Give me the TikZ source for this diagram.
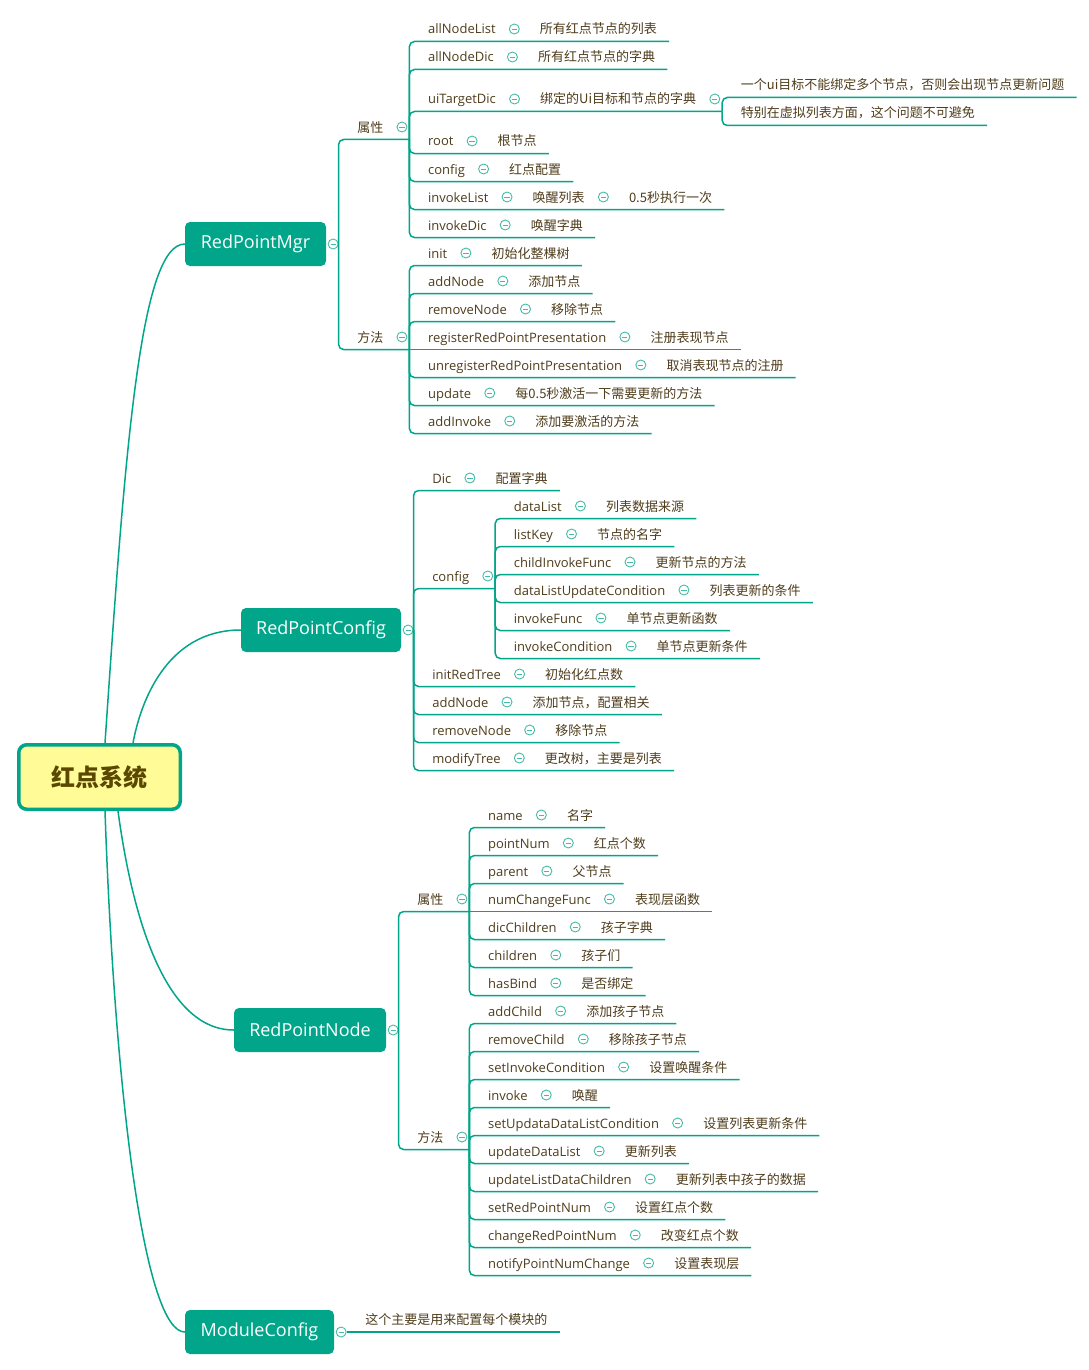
\documentclass[tikz,border=0pt]{standalone}
\usepackage{fontspec}
\setmainfont{Noto Sans CJK SC}
\newfontfamily\latinface{Open Sans}
\usetikzlibrary{positioning,calc}

\definecolor{mapteal}{HTML}{00A58A}
\definecolor{togline}{HTML}{45BBA5}
\definecolor{ink}{HTML}{4F3D1C}
\definecolor{corefill}{HTML}{FFFB97}
\definecolor{coreink}{HTML}{5A4800}

\tikzset{
  leaf/.style={anchor=west, inner sep=0pt, text=ink, font=\fontsize{13}{15}\selectfont,
    text height=11.5pt, text depth=1.5pt},
  tog/.style={circle, draw=togline, line width=0.9pt, fill=white, minimum size=10pt, inner sep=0pt,
    path picture={\draw[togline, line width=0.9pt]
      ($(path picture bounding box.center)+(-2.6,0)$) -- ($(path picture bounding box.center)+(2.6,0)$);}},
  wire/.style={draw=mapteal, line width=1.5pt},
  elbow/.style={wire, rounded corners=5pt},
  branch/.style={rectangle, rounded corners=5pt, fill=mapteal, text=white,
    font=\latinface\fontsize{18}{22}\selectfont, minimum height=44pt, inner xsep=0pt},
  core/.style={rectangle, rounded corners=8pt, draw=mapteal, line width=3.5pt, fill=corefill,
    text=coreink, font=\bfseries\fontsize{24}{28}\selectfont, minimum width=161.5pt, minimum height=64.5pt}
}

% a row: label, toggle, note, underlined and hung on the parent's bracket
\newcommand\twig[6][|-]{%
  \node[leaf] (#2) at ($(#3 |- 0,#4)+(18.5,0)$) {\latinface #5};
  \node[tog, right=13pt of #2] (#2k) {};
  \node[leaf, right=20pt of #2k] (#2n) {#6};
  \coordinate (#2e) at ($(#2n.east)+(12,12.5)$);
  \draw[elbow] (#3) #1 (#2e);
}
% a label with a toggle whose underline end opens a new bracket
\newcommand\hub[5][|-]{%
  \node[leaf] (#2) at ($(#3 |- 0,#4)+(18.5,0)$) {#5};
  \node[tog, right=13pt of #2] (#2k) {};
  \coordinate (#2o) at ($(#2k.east)+(2,12.5)$);
  \draw[elbow] (#3) #1 (#2o);
}
% a plain text leaf
\newcommand\tip[5][|-]{%
  \node[leaf] (#2) at ($(#3 |- 0,#4)+(18.5,0)$) {#5};
  \coordinate (#2e) at ($(#2.east)+(12,12.5)$);
  \draw[elbow] (#3) #1 (#2e);
}

\begin{document}
\begin{tikzpicture}[x=1pt, y=-1pt]
\fill[white] (0,0) rectangle (1089,1370);
\useasboundingbox (0,0) rectangle (1089,1370);

% centre topic and main branches
\node[core] (core) at (99.5,777) {红点系统};
\node[branch, minimum width=141pt] (mgr) at (255.5,244) {RedPointMgr};
\node[branch, minimum width=160pt] (cfg) at (321,630) {RedPointConfig};
\node[branch, minimum width=152pt] (nd) at (310,1030) {RedPointNode};
\node[branch, minimum width=149pt] (mc) at (259.5,1332) {ModuleConfig};

\draw[wire] ([xshift=88pt]core.north west) .. controls (125,450) and (140,244) .. (mgr.west);
\draw[wire] ([xshift=116pt]core.north west) .. controls (140,705) and (165,630) .. (cfg.west);
\draw[wire] ([xshift=101pt]core.south west) .. controls (130,900) and (160,1030) .. (nd.west);
\draw[wire] ([xshift=88pt]core.south west) .. controls (115,1100) and (145,1332) .. (mc.west);

\foreach \b in {mgr,cfg,nd,mc}{
  \node[tog, right=1.5pt of \b] (\b k) {};
  \coordinate (\b o) at (\b k.east);
}

% RedPointMgr
\hub{pa}{mgro}{127}{属性}
\twig{a1}{pao}{29}{allNodeList}{所有红点节点的列表}
\twig{a2}{pao}{57}{allNodeDic}{所有红点节点的字典}
\node[leaf] (a3) at ($(pao |- 0,99)+(18.5,0)$) {\latinface uiTargetDic};
\node[tog, right=13pt of a3] (a3k) {};
\node[leaf, right=20pt of a3k] (a3n) {绑定的Ui目标和节点的字典};
\node[tog, right=13pt of a3n] (a3m) {};
\coordinate (a3o) at ($(a3m.east)+(2,12.5)$);
\draw[elbow] (pao) |- (a3o);
\tip{a3x}{a3o}{85}{一个ui目标不能绑定多个节点，否则会出现节点更新问题}
\tip{a3y}{a3o}{113}{特别在虚拟列表方面，这个问题不可避免}
\twig{a4}{pao}{141}{root}{根节点}
\twig{a5}{pao}{169}{config}{红点配置}
\node[leaf] (a6) at ($(pao |- 0,197)+(18.5,0)$) {\latinface invokeList};
\node[tog, right=13pt of a6] (a6k) {};
\node[leaf, right=20pt of a6k] (a6n) {唤醒列表};
\node[tog, right=13pt of a6n] (a6m) {};
\node[leaf, right=20pt of a6m] (a6p) {0.5秒执行一次};
\coordinate (a6e) at ($(a6p.east)+(12,12.5)$);
\draw[elbow] (pao) |- (a6e);
\twig{a7}{pao}{225}{invokeDic}{唤醒字典}

\hub{pm}{mgro}{337}{方法}
\twig{m1}{pmo}{253}{init}{初始化整棵树}
\twig{m2}{pmo}{281}{addNode}{添加节点}
\twig{m3}{pmo}{309}{removeNode}{移除节点}
\twig[--]{m4}{pmo}{337}{registerRedPointPresentation}{注册表现节点}
\twig{m5}{pmo}{365}{unregisterRedPointPresentation}{取消表现节点的注册}
\twig{m6}{pmo}{393}{update}{每0.5秒激活一下需要更新的方法}
\twig{m7}{pmo}{421}{addInvoke}{添加要激活的方法}

% RedPointConfig
\twig{c1}{cfgo}{478}{Dic}{配置字典}
\hub{cc}{cfgo}{576}{\latinface config}
\twig{d1}{cco}{506}{dataList}{列表数据来源}
\twig{d2}{cco}{534}{listKey}{节点的名字}
\twig{d3}{cco}{562}{childInvokeFunc}{更新节点的方法}
\twig{d4}{cco}{590}{dataListUpdateCondition}{列表更新的条件}
\twig{d5}{cco}{618}{invokeFunc}{单节点更新函数}
\twig{d6}{cco}{646}{invokeCondition}{单节点更新条件}
\twig{c3}{cfgo}{674}{initRedTree}{初始化红点数}
\twig{c4}{cfgo}{702}{addNode}{添加节点，配置相关}
\twig{c5}{cfgo}{730}{removeNode}{移除节点}
\twig{c6}{cfgo}{758}{modifyTree}{更改树，主要是列表}

% RedPointNode
\hub{np}{ndo}{899}{属性}
\twig{n1}{npo}{815}{name}{名字}
\twig{n2}{npo}{843}{pointNum}{红点个数}
\twig{n3}{npo}{871}{parent}{父节点}
\twig[--]{n4}{npo}{899}{numChangeFunc}{表现层函数}
\twig{n5}{npo}{927}{dicChildren}{孩子字典}
\twig{n6}{npo}{955}{children}{孩子们}
\twig{n7}{npo}{983}{hasBind}{是否绑定}

\hub{nm}{ndo}{1137}{方法}
\twig{q1}{nmo}{1011}{addChild}{添加孩子节点}
\twig{q2}{nmo}{1039}{removeChild}{移除孩子节点}
\twig{q3}{nmo}{1067}{setInvokeCondition}{设置唤醒条件}
\twig{q4}{nmo}{1095}{invoke}{唤醒}
\twig{q5}{nmo}{1123}{setUpdataDataListCondition}{设置列表更新条件}
\twig{q6}{nmo}{1151}{updateDataList}{更新列表}
\twig{q7}{nmo}{1179}{updateListDataChildren}{更新列表中孩子的数据}
\twig{q8}{nmo}{1207}{setRedPointNum}{设置红点个数}
\twig{q9}{nmo}{1235}{changeRedPointNum}{改变红点个数}
\twig{q10}{nmo}{1263}{notifyPointNumChange}{设置表现层}

% ModuleConfig
\tip[--]{mt}{mco}{1319.5}{这个主要是用来配置每个模块的}
\end{tikzpicture}
\end{document}
